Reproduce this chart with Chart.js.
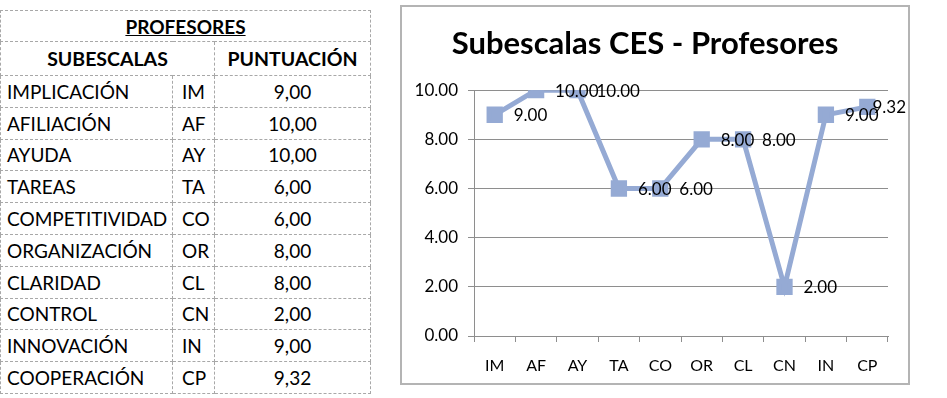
<!DOCTYPE html>
<html>
<head>
<meta charset="utf-8">
<script src="https://cdn.jsdelivr.net/npm/chart.js@4.4.1/dist/chart.umd.min.js"></script>
<style>
    body { margin: 0; background: #fff; width: 947px; height: 398px; position: relative; overflow: hidden; font-family: Lato, "Open Sans", sans-serif; }
    #tabla { position: absolute; left: 0; top: 10px; width: 370px; border-collapse: collapse; table-layout: fixed; }
    #tabla td { border: 1px dashed #a8a8a8; padding: 0 6px; font-size: 19px; color: #000; white-space: nowrap; overflow: hidden; }
    #tabla tr { height: 31.8px; }
    #tabla tr.titulo { height: 31px; }
    #tabla tr.cab { height: 34px; }
    #tabla .titulo td { text-align: center; font-weight: bold; font-size: 19px; }
    #tabla .titulo span { text-decoration: underline; }
    #tabla .cab td { text-align: center; font-weight: bold; font-size: 19.5px; }
    #tabla td.cod { padding-left: 9px; }
    #tabla td.val { text-align: center; }
    #grafico { position: absolute; left: 400px; top: 5px; width: 506px; height: 376px; border: 2px solid #b4b4b4; }
</style>
</head>
<body>
<table id="tabla">
    <colgroup><col style="width:172px"><col style="width:42px"><col style="width:156px"></colgroup>
    <tbody id="cuerpo">
        <tr class="titulo"><td colspan="3"><span>PROFESORES</span></td></tr>
        <tr class="cab"><td colspan="2">SUBESCALAS</td><td>PUNTUACIÓN</td></tr>
    </tbody>
</table>
<div id="grafico"><canvas id="cesChart"></canvas></div>

<script>
// Datos de la tabla y del grafico
const subescalas = ['IMPLICACIÓN', 'AFILIACIÓN', 'AYUDA', 'TAREAS', 'COMPETITIVIDAD', 'ORGANIZACIÓN', 'CLARIDAD', 'CONTROL', 'INNOVACIÓN', 'COOPERACIÓN'];
const codigos = ['IM', 'AF', 'AY', 'TA', 'CO', 'OR', 'CL', 'CN', 'IN', 'CP'];
const puntuaciones = [9.00, 10.00, 10.00, 6.00, 6.00, 8.00, 8.00, 2.00, 9.00, 9.32];
const yTicks = [0, 2, 4, 6, 8, 10];

// Rellenar la tabla
const cuerpo = document.getElementById('cuerpo');
subescalas.forEach(function(nombre, i) {
    const tr = document.createElement('tr');
    tr.innerHTML = '<td>' + nombre + '</td><td class="cod">' + codigos[i] + '</td><td class="val">' +
        puntuaciones[i].toFixed(2).replace('.', ',') + '</td>';
    cuerpo.appendChild(tr);
});

// Etiquetas de datos a la derecha de cada punto (la ultima se mete dentro del marco)
const etiquetasPlugin = {
    id: 'etiquetas',
    afterDatasetsDraw(chart) {
        const ctx = chart.ctx;
        const meta = chart.getDatasetMeta(0);
        ctx.save();
        ctx.font = '17px Lato, "Open Sans", sans-serif';
        ctx.fillStyle = '#000';
        ctx.textAlign = 'left';
        ctx.textBaseline = 'middle';
        meta.data.forEach(function(pt, i) {
            const txt = puntuaciones[i].toFixed(2);
            const w = ctx.measureText(txt).width;
            let x = pt.x + 19;
            if (x + w > chart.width - 2) x = chart.width - 2 - w;
            ctx.fillText(txt, x, pt.y + 1);
        });
        ctx.restore();
    }
};

const lineColor = '#95aad4';
const gridColor = '#8e8e8e';

const cesChart = new Chart(document.getElementById('cesChart'), {
    type: 'line',
    data: {
        labels: codigos,
        datasets: [{
            label: 'Profesores',
            data: puntuaciones,
            borderColor: lineColor,
            backgroundColor: lineColor,
            borderWidth: 5,
            pointStyle: 'rect',
            pointRadius: 8,
            pointHoverRadius: 8,
            tension: 0,
            fill: false
        }]
    },
    options: {
        responsive: true,
        maintainAspectRatio: false,
        animation: false,
        layout: { padding: { left: 0, right: 20, top: 0, bottom: 0 } },
        plugins: {
            legend: { display: false },
            tooltip: { enabled: false },
            title: {
                display: true,
                text: 'Subescalas CES - Profesores',
                color: '#000',
                font: { family: 'Lato, "Open Sans", sans-serif', size: 31, weight: 'bold' },
                padding: { top: 18, bottom: 28 }
            }
        },
        scales: {
            x: {
                offset: true,
                grid: { offset: true, drawOnChartArea: false, drawTicks: true, tickLength: 6, color: gridColor },
                border: { display: true, color: gridColor, width: 1 },
                ticks: { color: '#000', padding: 14, font: { family: 'Lato, "Open Sans", sans-serif', size: 16 } },
                afterFit: function(scale) { scale.height = 47; }
            },
            y: {
                min: 0,
                max: 10,
                afterBuildTicks: function(scale) {
                    scale.ticks = yTicks.map(function(v) { return { value: v }; });
                },
                grid: { color: gridColor, tickLength: 6 },
                border: { display: true, color: gridColor, width: 1 },
                ticks: {
                    color: '#000',
                    padding: 10,
                    font: { family: 'Lato, "Open Sans", sans-serif', size: 17 },
                    callback: function(v) { return Number(v).toFixed(2); }
                },
                afterFit: function(scale) { scale.width = 72; }
            }
        }
    },
    plugins: [etiquetasPlugin]
});
</script>
</body>
</html>
